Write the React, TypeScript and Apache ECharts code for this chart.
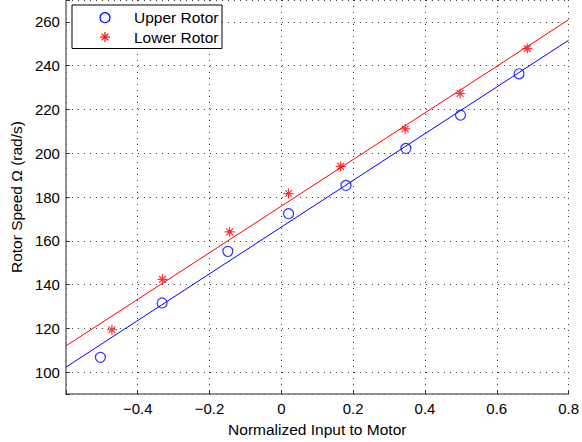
import React, { useEffect, useRef } from "react";
import * as echarts from "echarts";

const upperX = [-0.504, -0.332, -0.149, 0.02, 0.18, 0.347, 0.499, 0.662];
const upperY = [106.8, 131.6, 155.2, 172.4, 185.3, 202.2, 217.4, 236.3];
const lowerX = [-0.472, -0.331, -0.144, 0.02, 0.165, 0.345, 0.498, 0.685];
const lowerY = [119.4, 142.4, 164.1, 181.6, 194.0, 211.1, 227.3, 247.8];
const upperFitX = [-0.6, 0.8];
const upperFitY = [102.3, 251.6];
const lowerFitX = [-0.6, 0.8];
const lowerFitY = [112.0, 261.0];
const seriesNames = ["Upper Rotor", "Lower Rotor"];
const xAxisTitle = "Normalized Input to Motor";
const yAxisTitle = "Rotor Speed Ω (rad/s)";

const FONT = "Liberation Sans, Arial, Helvetica, sans-serif";
const ASTERISK = "path://M5 0L5 10M0 5L10 5M1.6 1.6L8.4 8.4M1.6 8.4L8.4 1.6";

const zip = (xs: number[], ys: number[]) => xs.map((x, i) => [x, ys[i]]);

export default function App() {
  const ref = useRef<HTMLDivElement>(null);
  useEffect(() => {
    if (!ref.current) return;
    const chart = echarts.init(ref.current, undefined, { renderer: "svg" });
    const gridLine = { show: true, lineStyle: { color: "#333", width: 1, type: [1, 5] as any } };
    chart.setOption({
      animation: false,
      backgroundColor: "#fff",
      textStyle: { fontFamily: FONT },
      grid: { left: 64, right: 12, top: -2.5, bottom: 45.7, containLabel: false },
      xAxis: {
        type: "value",
        min: -0.6,
        max: 0.8,
        interval: 0.2,
        name: xAxisTitle,
        nameLocation: "middle",
        nameGap: 24,
        nameTextStyle: { fontSize: 15.5, color: "#000", fontFamily: FONT },
        axisLine: { show: true, onZero: false, lineStyle: { color: "#707070", width: 1.5 } },
        axisTick: { show: true, inside: true, length: 4, lineStyle: { color: "#333" } },
        axisLabel: {
          margin: 7,
          fontSize: 15,
          color: "#000",
          fontFamily: FONT,
          formatter: (v: number) => {
            if (v < -0.59) return "";
            const r = Math.round(v * 10) / 10;
            return String(r).replace("-", "\u2212");
          },
        },
        splitLine: gridLine,
      },
      yAxis: {
        type: "value",
        min: 90,
        max: 270,
        splitNumber: 9,
        name: yAxisTitle,
        nameLocation: "middle",
        nameGap: 38,
        nameTextStyle: { fontSize: 15.5, color: "#000", fontFamily: FONT },
        axisLine: { show: true, onZero: false, lineStyle: { color: "#707070", width: 1.5 } },
        axisTick: { show: true, inside: true, length: 4, lineStyle: { color: "#333" } },
        axisLabel: {
          margin: 6,
          fontSize: 15,
          color: "#000",
          fontFamily: FONT,
          formatter: (v: number) => (Math.round(v) % 20 === 0 ? String(Math.round(v)) : ""),
        },
        splitLine: gridLine,
      },
      series: [
        {
          type: "line",
          data: zip(upperFitX, upperFitY),
          showSymbol: false,
          lineStyle: { color: "#0000ff", width: 1 },
          silent: true,
        },
        {
          type: "line",
          data: zip(lowerFitX, lowerFitY),
          showSymbol: false,
          lineStyle: { color: "#ff0000", width: 1 },
          silent: true,
        },
        {
          name: seriesNames[0],
          type: "scatter",
          data: zip(upperX, upperY),
          symbol: "circle",
          symbolSize: 10,
          itemStyle: { color: "rgba(0,0,0,0)", borderColor: "#0000ff", borderWidth: 1.2 },
          z: 3,
        },
        {
          name: seriesNames[1],
          type: "scatter",
          data: zip(lowerX, lowerY),
          symbol: ASTERISK,
          symbolSize: 10,
          itemStyle: { color: "rgba(0,0,0,0)", borderColor: "#ff0000", borderWidth: 1.2 },
          z: 3,
        },
      ],
      graphic: [
        {
          type: "rect",
          shape: { x: 72, y: 5, width: 150, height: 43.5 },
          style: { fill: "#fff", stroke: "#000", lineWidth: 1 },
          z: 10,
        },
        {
          type: "circle",
          shape: { cx: 105, cy: 17.7, r: 5 },
          style: { fill: "none", stroke: "#0000ff", lineWidth: 1.2 },
          z: 11,
        },
        {
          type: "group",
          x: 105,
          y: 37,
          z: 11,
          children: [
            { type: "line", shape: { x1: 0, y1: -5, x2: 0, y2: 5 }, style: { stroke: "#ff0000", lineWidth: 1.2 }, z: 11 },
            { type: "line", shape: { x1: -5, y1: 0, x2: 5, y2: 0 }, style: { stroke: "#ff0000", lineWidth: 1.2 }, z: 11 },
            { type: "line", shape: { x1: -3.4, y1: -3.4, x2: 3.4, y2: 3.4 }, style: { stroke: "#ff0000", lineWidth: 1.2 }, z: 11 },
            { type: "line", shape: { x1: -3.4, y1: 3.4, x2: 3.4, y2: -3.4 }, style: { stroke: "#ff0000", lineWidth: 1.2 }, z: 11 },
          ],
        },
        {
          type: "text",
          x: 134,
          y: 17.7,
          z: 11,
          style: { text: seriesNames[0], fontSize: 15.5, fontFamily: FONT, fill: "#000", verticalAlign: "middle", align: "left" },
        },
        {
          type: "text",
          x: 134,
          y: 37,
          z: 11,
          style: { text: seriesNames[1], fontSize: 15.5, fontFamily: FONT, fill: "#000", verticalAlign: "middle", align: "left" },
        },
      ],
    });
    return () => chart.dispose();
  }, []);
  return <div ref={ref} style={{ width: 582, height: 442, position: "fixed", left: 0, top: 0 }} />;
}
